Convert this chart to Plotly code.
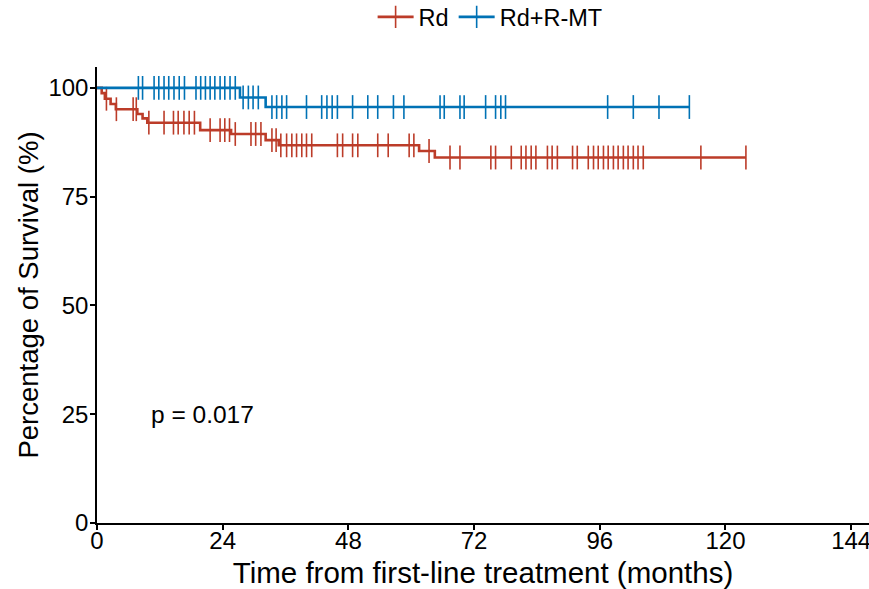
import numpy as np
import plotly.graph_objects as go

# ---- data ----
rd_event_months = [0.9, 1.5, 2.6, 3.6, 7.7, 8.7, 9.6, 19.7, 25.6, 32.2, 34.7, 61.5, 64.5]
rd_event_surv = [98.8, 97.5, 96.3, 95.1, 94.0, 93.0, 92.0, 90.3, 89.4, 88.0, 86.8, 85.5, 84.0]
rd_censor_months = [1.8, 3.7, 6.9, 7.5, 9.9, 12.8, 14.6, 15.5, 16.6, 17.6, 18.6, 21.6, 23.5,
                    24.4, 25.3, 26.4, 29.4, 30.3, 31.3, 33.4, 34.2, 35.1, 36.2, 37.2, 38.1,
                    39.1, 40.0, 41.0, 45.9, 46.9, 48.8, 49.8, 53.6, 55.6, 59.6, 60.5, 63.4,
                    67.4, 69.3, 75.2, 76.1, 79.1, 81.0, 81.9, 82.9, 83.8, 86.0, 86.9, 87.9,
                    90.8, 91.7, 93.8, 94.8, 95.7, 96.7, 97.6, 98.6, 99.5, 100.5, 101.4,
                    102.4, 103.3, 104.3, 115.3, 123.9]

rdmt_event_months = [27.3, 32.2]
rdmt_event_surv = [97.8, 95.6]
rdmt_censor_months = [7.9, 8.7, 10.9, 11.8, 12.8, 13.7, 14.7, 15.7, 16.7, 18.9, 19.8, 20.7,
                      21.6, 22.5, 23.5, 24.4, 25.4, 26.4, 27.9, 28.9, 29.8, 30.8, 33.4, 34.3,
                      35.3, 36.2, 40.0, 42.9, 43.9, 44.9, 45.9, 48.8, 51.7, 53.6, 56.6, 58.6,
                      65.5, 66.3, 69.3, 70.1, 74.2, 76.1, 77.1, 78.0, 97.5, 102.4, 107.3, 113.1]

group_names = ["Rd", "Rd+R-MT"]
group_colors = ["#BC3C29", "#0072B5"]
x_ticks = [0, 24, 48, 72, 96, 120, 144]
y_ticks = [0, 25, 50, 75, 100]
p_text = "p = 0.017"

FONT = "Liberation Sans, Arial, sans-serif"


def km_step(event_t, event_s, censor_t):
    end_t = max(max(censor_t), max(event_t))
    xs = [0.0] + list(event_t) + [end_t]
    ys = [100.0] + list(event_s) + [event_s[-1]]
    et = np.array(event_t)
    es = np.array(event_s)
    cy = []
    for t in censor_t:
        idx = np.searchsorted(et, t, side="right") - 1
        cy.append(100.0 if idx < 0 else float(es[idx]))
    return xs, ys, cy


fig = go.Figure()
groups = [
    (rd_event_months, rd_event_surv, rd_censor_months),
    (rdmt_event_months, rdmt_event_surv, rdmt_censor_months),
]
for (et, es, ct), name, col in zip(groups, group_names, group_colors):
    xs, ys, cy = km_step(et, es, ct)
    fig.add_trace(go.Scatter(x=xs, y=ys, mode="lines", line=dict(color=col, width=2.6, shape="hv"),
                             showlegend=False, hoverinfo="skip"))
    fig.add_trace(go.Scatter(x=ct, y=cy, mode="markers",
                             marker=dict(symbol="line-ns", size=17, line=dict(color=col, width=1.6)),
                             showlegend=False, hoverinfo="skip"))
    fig.add_trace(go.Scatter(x=[None], y=[None], mode="lines+markers", name=name,
                             line=dict(color=col, width=2.6),
                             marker=dict(symbol="line-ns", size=17, line=dict(color=col, width=1.6))))

fig.add_annotation(x=9.9, y=25, text=p_text, showarrow=False, xanchor="left", yanchor="middle",
                   font=dict(family=FONT, size=24.5, color="black"))

fig.update_layout(
    width=869, height=589,
    margin=dict(l=97, r=0, t=67, b=66),
    paper_bgcolor="white", plot_bgcolor="white",
    font=dict(family=FONT, color="black"),
    legend=dict(orientation="h", x=0.564, xanchor="center", xref="container",
                y=0.971, yanchor="middle", yref="container",
                font=dict(family=FONT, size=23.5, color="black"), itemwidth=36),
    xaxis=dict(range=[0, 147.4], tickvals=x_ticks, ticktext=[str(v) for v in x_ticks],
               automargin=False, ticklabeloverflow="allow", ticklabelstandoff=-10,
               showgrid=False, zeroline=False, showline=True, linecolor="black", linewidth=1.5,
               ticks="outside", ticklen=5, tickwidth=1.5, tickcolor="black",
               tickfont=dict(size=24, color="black"),
               title=dict(text="Time from first-line treatment (months)",
                          font=dict(size=29.5, color="black"), standoff=10)),
    yaxis=dict(range=[0, 104.8], tickvals=y_ticks, ticktext=[str(v) for v in y_ticks],
               automargin=False, ticklabelstandoff=-3,
               showgrid=False, zeroline=False, showline=True, linecolor="black", linewidth=1.5,
               ticks="outside", ticklen=5, tickwidth=1.5, tickcolor="black",
               tickfont=dict(size=24, color="black"),
               title=dict(text="Percentage of Survival (%)",
                          font=dict(size=27.5, color="black"), standoff=2)),
)

# remove the default page margin and scrollbars so the figure fills the window exactly
fig.write_html(
    "out.html",
    config={"displayModeBar": False},
    post_script="document.body.style.margin='0';document.body.style.overflow='hidden';"
                "document.documentElement.style.overflow='hidden';",
)
